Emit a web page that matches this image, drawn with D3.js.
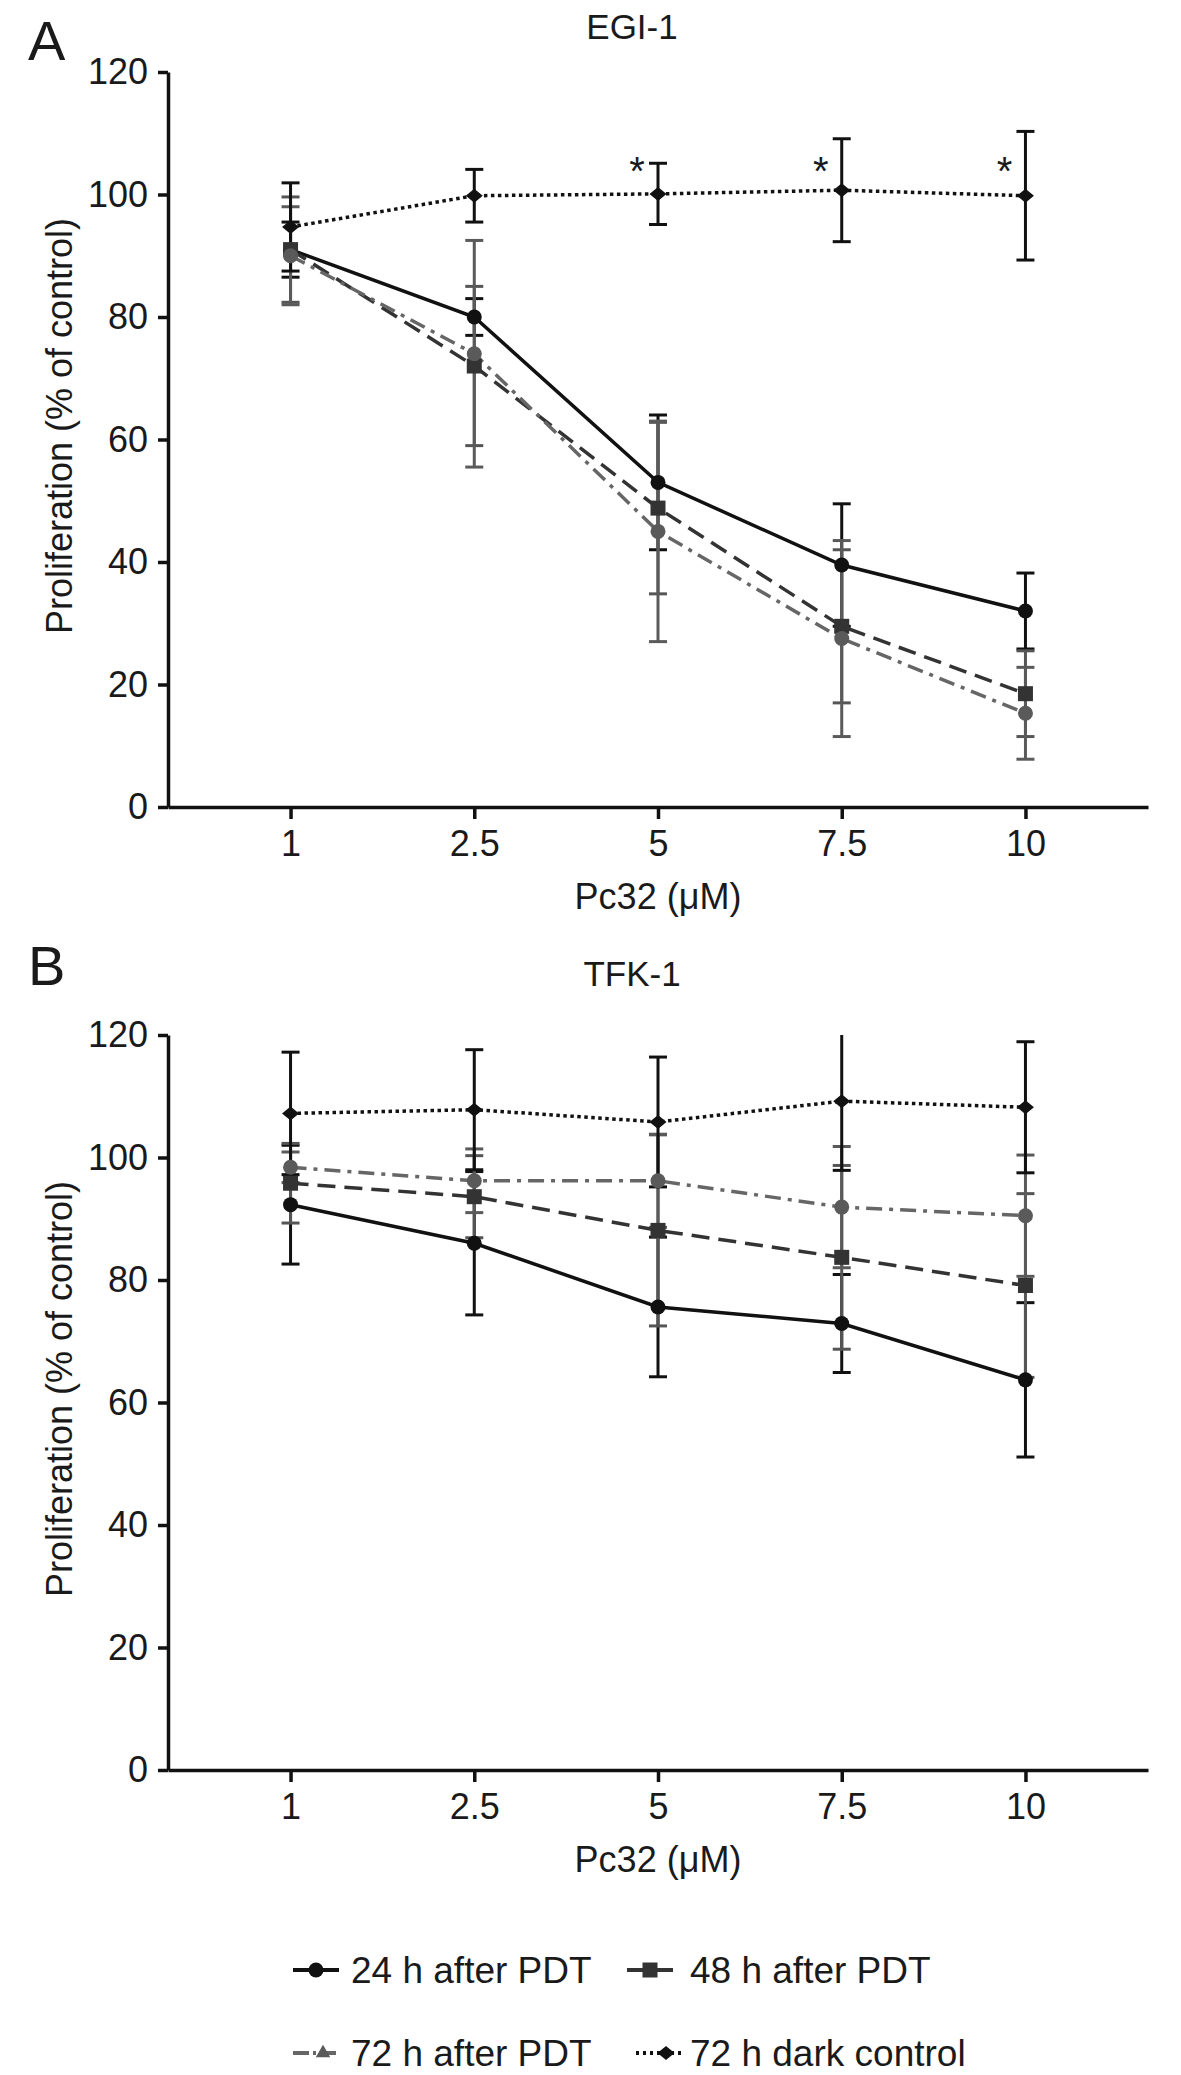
<!DOCTYPE html>
<html>
<head>
<meta charset="utf-8">
<script src="https://cdn.jsdelivr.net/npm/d3@7"></script>
<style>
  body { margin: 0; background: #fff; }
  svg text { font-family: "Liberation Sans", Arial, Helvetica, sans-serif; fill: #1a1a1a; }
</style>
</head>
<body>
<div id="chart"></div>
<script>
// ---- data (mean, error) ----
var doses = ["1", "2.5", "5", "7.5", "10"];
var yTicks = [0, 20, 40, 60, 80, 100, 120];
var seriesNames = ["24 h after PDT", "48 h after PDT", "72 h after PDT", "72 h dark control"];

// Panel A: EGI-1
var egi24 = [91, 80, 53, 39.5, 32];
var egi24Err = [4.5, 3, 11, 10, 6.2];
var egi48 = [91, 72, 48.8, 29.5, 18.5];
var egi48Err = [8.6, 13, 14, 12.5, 7];
var egi72 = [90, 74, 45, 27.5, 15.3];
var egi72Err = [8, 18.5, 18, 16, 7.5];
var egiDark = [94.7, 99.8, 100.1, 100.7, 99.8];
var egiDarkErr = [7.2, 4.3, 5, 8.4, 10.5];
var egiSig = ["5", "7.5", "10"];

// Panel B: TFK-1
var tfk24 = [92.3, 86.0, 75.6, 72.9, 63.7];
var tfk24Err = [9.7, 11.7, 11.4, 8, 12.6];
var tfk48 = [95.8, 93.6, 88.1, 83.7, 79.1];
var tfk48Err = [6.5, 6.7, 15.6, 15, 15];
var tfk72 = [98.4, 96.2, 96.2, 91.9, 90.5];
var tfk72Err = [2.5, 5.2, 7.6, 9.9, 9.9];
var tfkDark = [107.2, 107.8, 105.8, 109.2, 108.2];
var tfkDarkErr = [10, 9.8, 10.6, 11.3, 10.7];
var tfkSig = [];

// ---- styles per series (same order as seriesNames) ----
var styles = [
    {line: "#111", marker: "#111", err: "#111", dash: null,          shape: "circle"},
    {line: "#333", marker: "#333", err: "#555", dash: "18,9",        shape: "square"},
    {line: "#666", marker: "#5a5a5a", err: "#5a5a5a", dash: "16,7,4,7", shape: "circle"},
    {line: "#111", marker: "#111", err: "#111", dash: "3.5,3.5",     shape: "diamond"}
];

var W = 1181, H = 2075;
var svg = d3.select("#chart").append("svg")
    .attr("width", W)
    .attr("height", H);

var x = d3.scalePoint()
    .domain(doses)
    .range([168, 1148])
    .padding(0.667);

// draws one marker shape centred at cx, cy
function marker(g, shape, cx, cy, fill) {
    if (shape === "circle") {
        g.append("circle").attr("cx", cx).attr("cy", cy).attr("r", 7.5).attr("fill", fill);
    } else if (shape === "square") {
        g.append("rect").attr("x", cx - 7.5).attr("y", cy - 7.5)
            .attr("width", 15).attr("height", 15).attr("fill", fill);
    } else if (shape === "diamond") {
        g.append("path")
            .attr("d", "M" + (cx - 8.5) + "," + cy + "L" + cx + "," + (cy - 7) +
                       "L" + (cx + 8.5) + "," + cy + "L" + cx + "," + (cy + 7) + "Z")
            .attr("fill", fill);
    } else if (shape === "triangle") {
        g.append("path")
            .attr("d", d3.symbol().type(d3.symbolTriangle).size(90)())
            .attr("transform", "translate(" + cx + "," + cy + ")")
            .attr("fill", fill);
    }
}

function drawPanel(opt) {
    var y = d3.scaleLinear().domain([0, 120]).range([opt.y0, opt.y0 - 735]);
    var g = svg.append("g");

    // axes
    var yAxis = d3.axisLeft(y).tickValues(yTicks).tickSize(10).tickSizeOuter(0).tickPadding(10);
    var gy = g.append("g").attr("transform", "translate(168,0)").call(yAxis);
    var xAxis = d3.axisBottom(x).tickSize(12).tickSizeOuter(0).tickPadding(10);
    var gx = g.append("g").attr("transform", "translate(0," + opt.y0 + ")").call(xAxis);
    [gy, gx].forEach(function(a) {
        a.select(".domain").attr("stroke", "#111").attr("stroke-width", 3.5);
        a.selectAll(".tick line").attr("stroke", "#111").attr("stroke-width", 3.5);
        a.selectAll(".tick text").attr("font-size", 36).attr("fill", "#1a1a1a");
    });
    gx.selectAll(".tick text").attr("dy", "0.75em");

    // labels
    g.append("text")
        .attr("transform", "translate(59," + (opt.y0 - 381) + ") rotate(-90)")
        .attr("text-anchor", "middle")
        .attr("dominant-baseline", "central")
        .attr("font-size", 36)
        .text("Proliferation (% of control)");
    g.append("text")
        .attr("x", x("5")).attr("y", opt.y0 + 102)
        .attr("text-anchor", "middle")
        .attr("font-size", 36)
        .text("Pc32 (\u03BCM)");
    g.append("text")
        .attr("x", 632).attr("y", opt.y0 - opt.titleGap)
        .attr("text-anchor", "middle")
        .attr("font-size", 35)
        .text(opt.title);
    g.append("text")
        .attr("x", 28).attr("y", opt.y0 - opt.letterGap)
        .attr("font-size", 56)
        .text(opt.letter);

    var series = opt.series;

    // error bars (clipped at the top of the axis)
    series.forEach(function(s, i) {
        var st = styles[i];
        var eg = g.append("g").attr("stroke", st.err).attr("stroke-width", 3);
        doses.forEach(function(d, j) {
            var hi = s.v[j] + s.e[j], lo = s.v[j] - s.e[j];
            var top = Math.min(hi, 120);
            var cx = x(d);
            eg.append("line").attr("x1", cx).attr("x2", cx)
                .attr("y1", y(top)).attr("y2", y(lo));
            if (hi <= 120) {
                eg.append("line").attr("x1", cx - 9).attr("x2", cx + 9)
                    .attr("y1", y(hi)).attr("y2", y(hi));
            }
            eg.append("line").attr("x1", cx - 9).attr("x2", cx + 9)
                .attr("y1", y(lo)).attr("y2", y(lo));
        });
    });

    // lines
    var line = d3.line()
        .x(function(d, j) { return x(doses[j]); })
        .y(function(d) { return y(d); });
    series.forEach(function(s, i) {
        var st = styles[i];
        g.append("path")
            .attr("d", line(s.v))
            .attr("fill", "none")
            .attr("stroke", st.line)
            .attr("stroke-width", 3.5)
            .attr("stroke-dasharray", st.dash);
    });

    // markers
    series.forEach(function(s, i) {
        var st = styles[i];
        s.v.forEach(function(v, j) {
            marker(g, st.shape, x(doses[j]), y(v), st.marker);
        });
    });

    // significance marks
    opt.sig.forEach(function(d) {
        g.append("text")
            .attr("x", x(d) - 21)
            .attr("y", y(105.5) + 24)
            .attr("text-anchor", "middle")
            .attr("font-size", 40)
            .attr("fill", "#555")
            .text("*");
    });
}

drawPanel({
    y0: 807, title: "EGI-1", letter: "A", sig: egiSig,
    titleGap: 768, letterGap: 747,
    series: [
        {v: egi24, e: egi24Err},
        {v: egi48, e: egi48Err},
        {v: egi72, e: egi72Err},
        {v: egiDark, e: egiDarkErr}
    ]
});

drawPanel({
    y0: 1770, title: "TFK-1", letter: "B", sig: tfkSig,
    titleGap: 784, letterGap: 785,
    series: [
        {v: tfk24, e: tfk24Err},
        {v: tfk48, e: tfk48Err},
        {v: tfk72, e: tfk72Err},
        {v: tfkDark, e: tfkDarkErr}
    ]
});

// legend, two rows of two
var legendPos = [
    {x: 293, y: 1970}, {x: 627, y: 1970},
    {x: 293, y: 2053}, {x: 636, y: 2053}
];
var legendShape = ["circle", "square", "triangle", "diamond"];
var lg = svg.append("g");
seriesNames.forEach(function(name, i) {
    var p = legendPos[i], st = styles[i];
    lg.append("line")
        .attr("x1", p.x).attr("x2", p.x + 46)
        .attr("y1", p.y).attr("y2", p.y)
        .attr("stroke", st.line)
        .attr("stroke-width", 4)
        .attr("stroke-dasharray", i === 3 ? "3,4" : (i === 2 ? "16,4,3,4" : null));
    marker(lg, legendShape[i], p.x + (i >= 2 ? 30 : 23), p.y, st.marker);
    lg.append("text")
        .attr("x", 690 * (i % 2) + 351 * (1 - i % 2))
        .attr("y", p.y)
        .attr("dominant-baseline", "central")
        .attr("font-size", 37)
        .text(name);
});
</script>
</body>
</html>
